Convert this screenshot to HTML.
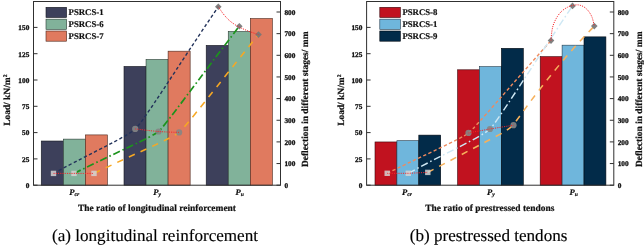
<!DOCTYPE html>
<html lang="en">
<head>
<meta charset="utf-8">
<title>Load and deflection in different stages</title>
<style>
html,body{margin:0;padding:0;background:#fff;}
body{width:644px;height:246px;overflow:hidden;}
svg{display:block;}
text{font-family:"Liberation Serif","Times New Roman",serif;fill:#111;text-rendering:geometricPrecision;}
.tk{font-size:7.3px;font-weight:bold;stroke:#111;stroke-width:0.3px;}
.lg{font-size:8.75px;font-weight:bold;stroke:#111;stroke-width:0.2px;}
.xt{font-size:8.6px;font-weight:bold;font-style:italic;stroke:#111;stroke-width:0.2px;}
.sub{font-size:5.6px;}
.sup{font-size:5.6px;}
.ax{font-size:9.45px;font-weight:bold;stroke:#111;stroke-width:0.2px;}
.cap{font-size:17.1px;fill:#000;stroke:#000;stroke-width:0.15px;}
</style>
</head>
<body>
<svg width="644" height="246" viewBox="0 0 644 246">
<rect x="0" y="0" width="644" height="246" fill="#ffffff"/>
<g id="chart-a">
<rect x="41.25" y="141.02" width="22.05" height="44.18" fill="#3D405B" stroke="#15161f" stroke-width="0.6"/>
<rect x="63.3" y="139.12" width="22.05" height="46.08" fill="#81B29A" stroke="#2a3a32" stroke-width="0.6"/>
<rect x="85.35" y="134.91" width="22.05" height="50.29" fill="#E07A5F" stroke="#4a261c" stroke-width="0.6"/>
<rect x="124" y="66.43" width="22.05" height="118.77" fill="#3D405B" stroke="#15161f" stroke-width="0.6"/>
<rect x="146.05" y="59.49" width="22.05" height="125.71" fill="#81B29A" stroke="#2a3a32" stroke-width="0.6"/>
<rect x="168.1" y="51.18" width="22.05" height="134.02" fill="#E07A5F" stroke="#4a261c" stroke-width="0.6"/>
<rect x="206.2" y="45.39" width="22.05" height="139.81" fill="#3D405B" stroke="#15161f" stroke-width="0.6"/>
<rect x="228.25" y="31.5" width="22.05" height="153.7" fill="#81B29A" stroke="#2a3a32" stroke-width="0.6"/>
<rect x="250.3" y="18.56" width="22.05" height="166.64" fill="#E07A5F" stroke="#4a261c" stroke-width="0.6"/>
<path d="M53.5 173.4C94.35 151.15 125.57 137.63 135.2 128.9C144.09 120.84 176.75 67.8 218.3 6.7" fill="none" stroke="#22325a" stroke-width="1.4" stroke-dasharray="3.3 2.4"/>
<path d="M74 173.4C116.3 152.45 151.65 137.22 158.6 131.5C164.01 127.05 198.95 78.85 239.3 26.2" fill="none" stroke="#1c931c" stroke-width="1.7" stroke-dasharray="7.3 2.8 1.6 2.8"/>
<path d="M94 173.4C136.55 152.9 171.26 138.6 179.1 132.4C185.38 127.44 218.8 83.5 258.5 34.6" fill="none" stroke="#f7a823" stroke-width="1.55" stroke-dasharray="6.5 6.3"/>
<rect x="50.8" y="170.7" width="5.4" height="5.4" fill="#d4d4d4" fill-opacity="0.85"/>
<rect x="71.3" y="170.7" width="5.4" height="5.4" fill="#d4d4d4" fill-opacity="0.85"/>
<rect x="91.3" y="170.7" width="5.4" height="5.4" fill="#d4d4d4" fill-opacity="0.85"/>
<circle cx="135.2" cy="128.9" r="3.1" fill="#858585" fill-opacity="0.9"/>
<circle cx="158.6" cy="131.5" r="3.1" fill="#858585" fill-opacity="0.9"/>
<circle cx="179.1" cy="132.4" r="3.1" fill="#858585" fill-opacity="0.9"/>
<path d="M215 6.7L218.3 3.4L221.6 6.7L218.3 10Z" fill="#767676" fill-opacity="0.93"/>
<path d="M236 26.2L239.3 22.9L242.6 26.2L239.3 29.5Z" fill="#767676" fill-opacity="0.93"/>
<path d="M255.2 34.6L258.5 31.3L261.8 34.6L258.5 37.9Z" fill="#767676" fill-opacity="0.93"/>
<path d="M53.5 173.4L94 173.4" fill="none" stroke="#f82428" stroke-width="1.0" stroke-dasharray="1.1 1.15"/>
<path d="M135.2 128.9C139.1 129.33 151.28 130.92 158.6 131.5C165.92 132.08 175.68 132.25 179.1 132.4" fill="none" stroke="#f82428" stroke-width="1.0" stroke-dasharray="1.1 1.15"/>
<path d="M218.3 6.7C219.13 7.9 221.55 11.68 223.3 13.9C225.05 16.12 226.97 18.28 228.8 20C230.63 21.72 232.53 23 234.3 24.2C236.07 25.4 236.97 26.02 239.4 27.2C241.83 28.38 245.72 30.07 248.9 31.3C252.08 32.53 256.9 34.05 258.5 34.6" fill="none" stroke="#f82428" stroke-width="1.0" stroke-dasharray="1.1 1.15"/>
<rect x="33.5" y="1.5" width="247" height="183.7" fill="none" stroke="#303030" stroke-width="1"/>
<line x1="33.5" y1="185.2" x2="37.5" y2="185.2" stroke="#303030" stroke-width="1"/>
<text class="tk" text-anchor="end" x="29.3" y="188">0</text>
<line x1="33.5" y1="158.9" x2="37.5" y2="158.9" stroke="#303030" stroke-width="1"/>
<text class="tk" text-anchor="end" x="29.3" y="161.7">25</text>
<line x1="33.5" y1="132.6" x2="37.5" y2="132.6" stroke="#303030" stroke-width="1"/>
<text class="tk" text-anchor="end" x="29.3" y="135.4">50</text>
<line x1="33.5" y1="106.3" x2="37.5" y2="106.3" stroke="#303030" stroke-width="1"/>
<text class="tk" text-anchor="end" x="29.3" y="109.1">75</text>
<line x1="33.5" y1="80" x2="37.5" y2="80" stroke="#303030" stroke-width="1"/>
<text class="tk" text-anchor="end" x="29.3" y="82.8">100</text>
<line x1="33.5" y1="53.7" x2="37.5" y2="53.7" stroke="#303030" stroke-width="1"/>
<text class="tk" text-anchor="end" x="29.3" y="56.5">125</text>
<line x1="33.5" y1="27.4" x2="37.5" y2="27.4" stroke="#303030" stroke-width="1"/>
<text class="tk" text-anchor="end" x="29.3" y="30.2">150</text>
<line x1="280.5" y1="185.2" x2="276.5" y2="185.2" stroke="#303030" stroke-width="1"/>
<text class="tk" x="284.4" y="188">0</text>
<line x1="280.5" y1="163.55" x2="276.5" y2="163.55" stroke="#303030" stroke-width="1"/>
<text class="tk" x="284.4" y="166.35">100</text>
<line x1="280.5" y1="141.9" x2="276.5" y2="141.9" stroke="#303030" stroke-width="1"/>
<text class="tk" x="284.4" y="144.7">200</text>
<line x1="280.5" y1="120.25" x2="276.5" y2="120.25" stroke="#303030" stroke-width="1"/>
<text class="tk" x="284.4" y="123.05">300</text>
<line x1="280.5" y1="98.6" x2="276.5" y2="98.6" stroke="#303030" stroke-width="1"/>
<text class="tk" x="284.4" y="101.4">400</text>
<line x1="280.5" y1="76.95" x2="276.5" y2="76.95" stroke="#303030" stroke-width="1"/>
<text class="tk" x="284.4" y="79.75">500</text>
<line x1="280.5" y1="55.3" x2="276.5" y2="55.3" stroke="#303030" stroke-width="1"/>
<text class="tk" x="284.4" y="58.1">600</text>
<line x1="280.5" y1="33.65" x2="276.5" y2="33.65" stroke="#303030" stroke-width="1"/>
<text class="tk" x="284.4" y="36.45">700</text>
<line x1="280.5" y1="12" x2="276.5" y2="12" stroke="#303030" stroke-width="1"/>
<text class="tk" x="284.4" y="14.8">800</text>
<rect x="46" y="7.3" width="20.6" height="10.2" fill="#3D405B" stroke="#15161f" stroke-width="0.6"/>
<text class="lg" x="68.6" y="15.45">PSRCS-1</text>
<rect x="46" y="19.15" width="20.6" height="10.2" fill="#81B29A" stroke="#2a3a32" stroke-width="0.6"/>
<text class="lg" x="68.6" y="27.3">PSRCS-6</text>
<rect x="46" y="31" width="20.6" height="10.2" fill="#E07A5F" stroke="#4a261c" stroke-width="0.6"/>
<text class="lg" x="68.6" y="39.15">PSRCS-7</text>
<text class="xt" text-anchor="middle" x="74.3" y="194.6">P<tspan class="sub" dy="1.6">cr</tspan></text>
<text class="xt" text-anchor="middle" x="157.2" y="194.6">P<tspan class="sub" dy="1.6">y</tspan></text>
<text class="xt" text-anchor="middle" x="239.7" y="194.6">P<tspan class="sub" dy="1.6">u</tspan></text>
<text class="ax" text-anchor="middle" x="157" y="211.1">The ratio of longitudinal reinforcement</text>
<text class="ax" text-anchor="middle" transform="translate(10.4 100.2) rotate(-90)">Load/ kN/m<tspan class="sup" dy="-3.2">2</tspan></text>
<text class="ax" text-anchor="middle" transform="translate(307.5 99.3) rotate(-90)">Deflection in different stages/ mm</text>
<text class="cap" x="52" y="240.8">(a) longitudinal reinforcement</text>
</g>
<g id="chart-b">
<rect x="375" y="141.96" width="21.9" height="43.24" fill="#C1121F" stroke="#3a060a" stroke-width="0.6"/>
<rect x="396.9" y="140.7" width="21.9" height="44.5" fill="#6FB6DC" stroke="#22394a" stroke-width="0.6"/>
<rect x="418.8" y="135.12" width="21.9" height="50.08" fill="#022B49" stroke="#000810" stroke-width="0.6"/>
<rect x="457.6" y="69.8" width="21.9" height="115.4" fill="#C1121F" stroke="#3a060a" stroke-width="0.6"/>
<rect x="479.5" y="66.64" width="21.9" height="118.56" fill="#6FB6DC" stroke="#22394a" stroke-width="0.6"/>
<rect x="501.4" y="48.33" width="21.9" height="136.87" fill="#022B49" stroke="#000810" stroke-width="0.6"/>
<rect x="540.2" y="56.65" width="21.9" height="128.55" fill="#C1121F" stroke="#3a060a" stroke-width="0.6"/>
<rect x="562.1" y="45.18" width="21.9" height="140.02" fill="#6FB6DC" stroke="#22394a" stroke-width="0.6"/>
<rect x="584" y="36.87" width="21.9" height="148.33" fill="#022B49" stroke="#000810" stroke-width="0.6"/>
<path d="M387.2 173.3C427.85 153.1 458.96 140.17 468.5 132.9C474.86 128.05 509.75 86.75 551 40.6" fill="none" stroke="#ee8a5e" stroke-width="1.4" stroke-dasharray="3.3 2.4"/>
<path d="M408.3 173.3C449.15 151.15 481.13 137.08 490 129C495.92 123.61 531.25 67.45 572.5 5.9" fill="none" stroke="#cfe8f4" stroke-width="1.45" stroke-dasharray="7.3 2.8 1.6 2.8"/>
<path d="M427.8 172.4L498.8 134.9Q508.5 129.8 513.4 125Q553.85 67.6 594.3 26.1" fill="none" stroke="#f6b15c" stroke-width="1.55" stroke-dasharray="6.5 6.3"/>
<rect x="384.5" y="170.6" width="5.4" height="5.4" fill="#d4d4d4" fill-opacity="0.85"/>
<rect x="405.6" y="170.6" width="5.4" height="5.4" fill="#d4d4d4" fill-opacity="0.85"/>
<rect x="425.1" y="169.7" width="5.4" height="5.4" fill="#d4d4d4" fill-opacity="0.85"/>
<circle cx="468.5" cy="132.9" r="3.1" fill="#858585" fill-opacity="0.9"/>
<circle cx="490" cy="129" r="3.1" fill="#858585" fill-opacity="0.9"/>
<circle cx="513.5" cy="125.2" r="3.1" fill="#858585" fill-opacity="0.9"/>
<path d="M547.7 40.6L551 37.3L554.3 40.6L551 43.9Z" fill="#767676" fill-opacity="0.93"/>
<path d="M569.2 5.9L572.5 2.6L575.8 5.9L572.5 9.2Z" fill="#767676" fill-opacity="0.93"/>
<path d="M591 26.1L594.3 22.8L597.6 26.1L594.3 29.4Z" fill="#767676" fill-opacity="0.93"/>
<path d="M387.2 173.3L408.3 173.3L427.8 172.4" fill="none" stroke="#f82428" stroke-width="1.0" stroke-dasharray="1.1 1.15"/>
<path d="M468.5 132.9C472.08 132.25 482.5 130.28 490 129C497.5 127.72 509.58 125.83 513.5 125.2" fill="none" stroke="#f82428" stroke-width="1.0" stroke-dasharray="1.1 1.15"/>
<path d="M551 40.6C551.15 39.02 551.45 33.9 551.9 31.1C552.35 28.3 552.78 26.23 553.7 23.8C554.62 21.37 556.03 18.63 557.4 16.5C558.77 14.37 560.23 12.53 561.9 11C563.57 9.47 565.63 8.22 567.4 7.3C569.17 6.38 570.67 5.9 572.5 5.5C574.33 5.1 576.5 4.67 578.4 4.9C580.3 5.13 582.23 5.88 583.9 6.9C585.57 7.92 587.03 9.25 588.4 11C589.77 12.75 591.12 14.88 592.1 17.4C593.08 19.92 593.93 24.65 594.3 26.1" fill="none" stroke="#f82428" stroke-width="1.0" stroke-dasharray="1.1 1.15"/>
<rect x="366.6" y="1.5" width="247.2" height="183.7" fill="none" stroke="#303030" stroke-width="1"/>
<line x1="366.6" y1="185.2" x2="370.6" y2="185.2" stroke="#303030" stroke-width="1"/>
<text class="tk" text-anchor="end" x="362.4" y="188">0</text>
<line x1="366.6" y1="158.9" x2="370.6" y2="158.9" stroke="#303030" stroke-width="1"/>
<text class="tk" text-anchor="end" x="362.4" y="161.7">25</text>
<line x1="366.6" y1="132.6" x2="370.6" y2="132.6" stroke="#303030" stroke-width="1"/>
<text class="tk" text-anchor="end" x="362.4" y="135.4">50</text>
<line x1="366.6" y1="106.3" x2="370.6" y2="106.3" stroke="#303030" stroke-width="1"/>
<text class="tk" text-anchor="end" x="362.4" y="109.1">75</text>
<line x1="366.6" y1="80" x2="370.6" y2="80" stroke="#303030" stroke-width="1"/>
<text class="tk" text-anchor="end" x="362.4" y="82.8">100</text>
<line x1="366.6" y1="53.7" x2="370.6" y2="53.7" stroke="#303030" stroke-width="1"/>
<text class="tk" text-anchor="end" x="362.4" y="56.5">125</text>
<line x1="366.6" y1="27.4" x2="370.6" y2="27.4" stroke="#303030" stroke-width="1"/>
<text class="tk" text-anchor="end" x="362.4" y="30.2">150</text>
<line x1="613.8" y1="185.2" x2="609.8" y2="185.2" stroke="#303030" stroke-width="1"/>
<text class="tk" x="617.7" y="188">0</text>
<line x1="613.8" y1="163.55" x2="609.8" y2="163.55" stroke="#303030" stroke-width="1"/>
<text class="tk" x="617.7" y="166.35">100</text>
<line x1="613.8" y1="141.9" x2="609.8" y2="141.9" stroke="#303030" stroke-width="1"/>
<text class="tk" x="617.7" y="144.7">200</text>
<line x1="613.8" y1="120.25" x2="609.8" y2="120.25" stroke="#303030" stroke-width="1"/>
<text class="tk" x="617.7" y="123.05">300</text>
<line x1="613.8" y1="98.6" x2="609.8" y2="98.6" stroke="#303030" stroke-width="1"/>
<text class="tk" x="617.7" y="101.4">400</text>
<line x1="613.8" y1="76.95" x2="609.8" y2="76.95" stroke="#303030" stroke-width="1"/>
<text class="tk" x="617.7" y="79.75">500</text>
<line x1="613.8" y1="55.3" x2="609.8" y2="55.3" stroke="#303030" stroke-width="1"/>
<text class="tk" x="617.7" y="58.1">600</text>
<line x1="613.8" y1="33.65" x2="609.8" y2="33.65" stroke="#303030" stroke-width="1"/>
<text class="tk" x="617.7" y="36.45">700</text>
<line x1="613.8" y1="12" x2="609.8" y2="12" stroke="#303030" stroke-width="1"/>
<text class="tk" x="617.7" y="14.8">800</text>
<rect x="379.8" y="7.3" width="20.6" height="10.2" fill="#C1121F" stroke="#3a060a" stroke-width="0.6"/>
<text class="lg" x="402.4" y="15.45">PSRCS-8</text>
<rect x="379.8" y="19.15" width="20.6" height="10.2" fill="#6FB6DC" stroke="#22394a" stroke-width="0.6"/>
<text class="lg" x="402.4" y="27.3">PSRCS-1</text>
<rect x="379.8" y="31" width="20.6" height="10.2" fill="#022B49" stroke="#000810" stroke-width="0.6"/>
<text class="lg" x="402.4" y="39.15">PSRCS-9</text>
<text class="xt" text-anchor="middle" x="407" y="194.6">P<tspan class="sub" dy="1.6">cr</tspan></text>
<text class="xt" text-anchor="middle" x="490.8" y="194.6">P<tspan class="sub" dy="1.6">y</tspan></text>
<text class="xt" text-anchor="middle" x="573.6" y="194.6">P<tspan class="sub" dy="1.6">u</tspan></text>
<text class="ax" text-anchor="middle" x="489.8" y="211.1">The ratio of prestressed tendons</text>
<text class="ax" text-anchor="middle" transform="translate(344.2 100.2) rotate(-90)">Load/ kN/m<tspan class="sup" dy="-3.2">2</tspan></text>
<text class="ax" text-anchor="middle" transform="translate(641.7 99.3) rotate(-90)">Deflection in different stages/ mm</text>
<text class="cap" x="409.8" y="241.2">(b) prestressed tendons</text>
</g>
</svg>
</body>
</html>
